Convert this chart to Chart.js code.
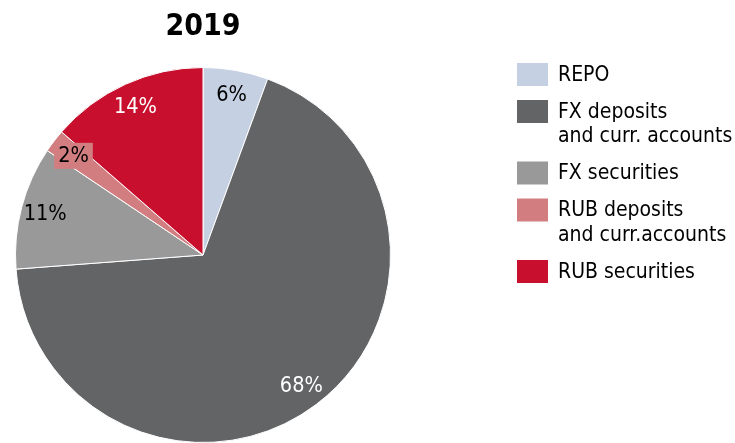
<!DOCTYPE html>
<html lang="en">
<head>
    <meta charset="UTF-8">
    <title>2019</title>
    <script src="https://cdn.jsdelivr.net/npm/chart.js@4.4.0/dist/chart.umd.min.js"></script>
    <style>
        body { margin: 0; background: #fff; }
        #wrap { width: 735px; height: 443px; }
    </style>
</head>
<body>
    <div id="wrap"><canvas id="pie" width="735" height="443"></canvas></div>

    <script>
        // Chart data
        const categories = [
            ['REPO'],
            ['FX deposits', 'and curr. accounts'],
            ['FX securities'],
            ['RUB deposits', 'and curr.accounts'],
            ['RUB securities']
        ];
        const shares = [5.6, 68.2, 10.6, 2.0, 13.6];
        const sliceColors = ['#C5D0E2', '#636466', '#999999', '#D27E80', '#C8102E'];
        const labelColors = ['#000', '#fff', '#000', '#000', '#fff'];
        const chartTitle = '2019';

        const FONT = "'DejaVu Sans Condensed', 'DejaVu Sans', sans-serif";

        // Percent labels inside the slices
        const sliceLabels = {
            id: 'sliceLabels',
            afterDatasetsDraw(chart) {
                const ctx = chart.ctx;
                const meta = chart.getDatasetMeta(0);
                ctx.save();
                ctx.font = '21.5px ' + FONT;
                ctx.textAlign = 'center';
                ctx.textBaseline = 'middle';
                meta.data.forEach((arc, i) => {
                    const p = arc.getProps(['x', 'y', 'startAngle', 'endAngle', 'outerRadius'], true);
                    const mid = (p.startAngle + p.endAngle) / 2;
                    const r = p.outerRadius * 0.87;
                    const x = p.x + Math.cos(mid) * r;
                    const y = p.y + Math.sin(mid) * r;
                    const txt = Math.round(shares[i]) + '%';
                    if (shares[i] < 3) {
                        // small slice: label gets a filled box
                        const w = ctx.measureText(txt).width + 8;
                        ctx.fillStyle = sliceColors[i];
                        ctx.fillRect(x - w / 2, y - 13, w, 26);
                    }
                    ctx.fillStyle = labelColors[i];
                    ctx.fillText(txt, x, y + 1);
                });
                ctx.restore();
            }
        };

        // Legend on the right
        const sideLegend = {
            id: 'sideLegend',
            afterDraw(chart) {
                const ctx = chart.ctx;
                ctx.save();
                ctx.font = '21px ' + FONT;
                ctx.textAlign = 'left';
                ctx.textBaseline = 'middle';
                let y = 63;
                categories.forEach((lines, i) => {
                    ctx.fillStyle = sliceColors[i];
                    ctx.fillRect(517, y, 31, 23);
                    ctx.fillStyle = '#000';
                    lines.forEach((line, j) => {
                        ctx.fillText(line, 558, y + 12.5 + j * 24.5);
                    });
                    y += lines.length * 24.5 + 12.5;
                });
                ctx.restore();
            }
        };

        new Chart(document.getElementById('pie'), {
            type: 'pie',
            data: {
                labels: categories.map(c => c.join(' ')),
                datasets: [{
                    data: shares,
                    backgroundColor: sliceColors,
                    borderColor: '#ffffff',
                    borderWidth: 1
                }]
            },
            options: {
                responsive: false,
                animation: false,
                devicePixelRatio: 1,
                layout: { padding: { left: 15, right: 344, top: 0, bottom: 0 } },
                plugins: {
                    legend: { display: false },
                    tooltip: { enabled: false },
                    title: {
                        display: true,
                        text: chartTitle,
                        color: '#000',
                        font: { family: FONT, size: 30, weight: 'bold', lineHeight: 1.2 },
                        padding: { top: 9, bottom: 22 }
                    }
                }
            },
            plugins: [sliceLabels, sideLegend]
        });
    </script>
</body>
</html>
